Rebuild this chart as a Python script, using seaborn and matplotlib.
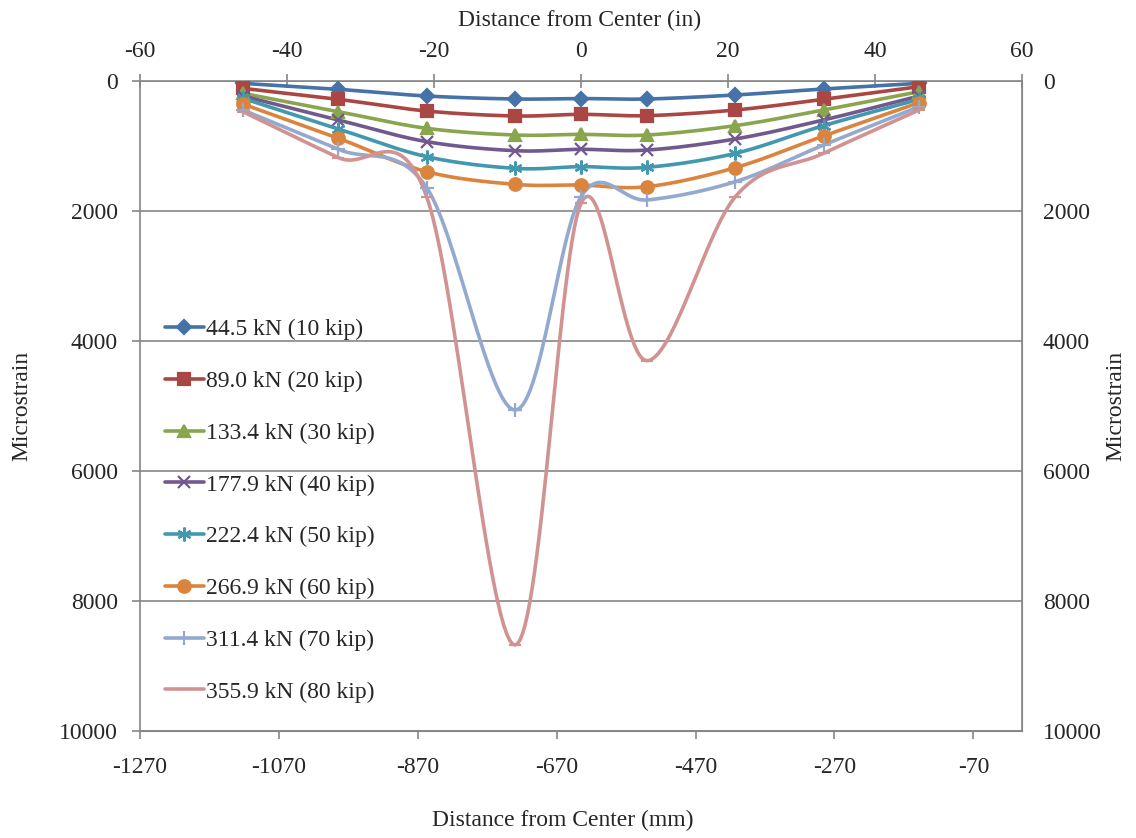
import numpy as np
import pandas as pd
import matplotlib.pyplot as plt
import seaborn as sns
from matplotlib.lines import Line2D

# gauge positions (in) and strain readings per load step
dist_in = [-46, -33, -21, -9, 0, 9, 21, 33, 46]
load_labels = ['44.5 kN (10 kip)', '89.0 kN (20 kip)', '133.4 kN (30 kip)', '177.9 kN (40 kip)',
               '222.4 kN (50 kip)', '266.9 kN (60 kip)', '311.4 kN (70 kip)', '355.9 kN (80 kip)']
s10 = [36, 128, 231, 277, 270, 277, 215, 123, 36]
s20 = [113, 282, 462, 538, 513, 533, 446, 282, 87]
s30 = [190, 472, 728, 831, 821, 831, 687, 446, 164]
s40 = [231, 600, 933, 1072, 1051, 1062, 892, 600, 231]
s50 = [267, 738, 1164, 1344, 1318, 1328, 1113, 687, 282]
s60 = [354, 882, 1395, 1590, 1600, 1626, 1333, 846, 333]
s70 = [446, 1051, 1640, 5062, 1780, 1830, 1549, 985, 395]
s80 = [472, 1179, 1780, 8677, 1882, 4303, 1780, 1113, 446]
series = [s10, s20, s30, s40, s50, s60, s70, s80]

colors = ['#4572A7', '#AA4643', '#89A54E', '#71588F', '#4198AF', '#DB843D', '#93A9CF', '#D19392']
markers = ['D', 's', '^', 'x', (6, 2, 0), 'o', '+', '_']
msizes = [7, 9, 9, 9, 10, 9, 10, 8]


def smooth(x, y, sx=7.35, sy=0.065, n=30):
    # excel-like smoothed line: cubic bezier through the points, done in screen-ish units
    p = np.column_stack([np.asarray(x, float) * sx, np.asarray(y, float) * sy])
    ext = np.vstack([p[0], p, p[-1]])
    out = []
    t = np.linspace(0, 1, n)[:, None]
    for i in range(len(p) - 1):
        p0, p3 = ext[i + 1], ext[i + 2]
        c1 = p0 + (ext[i + 2] - ext[i]) / 6
        c2 = p3 - (ext[i + 3] - ext[i + 1]) / 6
        seg = (1 - t) ** 3 * p0 + 3 * (1 - t) ** 2 * t * c1 + 3 * (1 - t) * t ** 2 * c2 + t ** 3 * p3
        out.append(seg if i == 0 else seg[1:])
    out = np.vstack(out)
    return out[:, 0] / sx, out[:, 1] / sy


sns.set_style('white')
plt.rcParams['font.family'] = ['Liberation Serif', 'DejaVu Serif']
plt.rcParams['font.size'] = 17
plt.rcParams['axes.unicode_minus'] = False

fig = plt.figure(figsize=(11.36, 8.38), dpi=100)
ax = fig.add_axes([140 / 1136, 1 - 731 / 838, 882 / 1136, 650 / 838])

handles = []
for vals, lab, c, m, ms in zip(series, load_labels, colors, markers, msizes):
    xs, ys = smooth(dist_in, vals)
    curve = pd.DataFrame({'x': xs, 'y': ys})
    sns.lineplot(data=curve, x='x', y='y', sort=False, color=c, lw=2.6, ax=ax, zorder=2)
    ax.plot(dist_in, vals, ls='none', marker=m, ms=ms, color=c, mec=c, mew=1.6, zorder=3)
    handles.append(Line2D([], [], color=c, lw=2.6, marker=m, ms=ms, mec=c, mew=1.6))

ax.set_xlim(-60, 60)
ax.set_ylim(10000, 0)
ax.set_xticks(range(-60, 61, 20))
ax.set_yticks(range(0, 10001, 2000))
ax.xaxis.tick_top()
ax.set_xlabel('')
ax.set_ylabel('')

gray = '#868686'
for sp in ax.spines.values():
    sp.set_color(gray)
    sp.set_linewidth(1.2)
ax.yaxis.grid(True, color=gray, lw=1.2)
ax.xaxis.grid(False)
ax.tick_params(axis='x', which='major', top=True, bottom=False, direction='inout', length=10,
               color=gray, width=1.2, pad=9, labelsize=17)
ax.tick_params(axis='y', which='major', left=True, direction='out', length=6,
               color=gray, width=1.2, pad=10, labelsize=17)

mm = ax.secondary_xaxis('bottom', functions=(lambda v: -635 + v * 635 / 60,
                                              lambda v: (v + 635) * 60 / 635))
mm.set_xticks(range(-1270, 0, 200))
mm.tick_params(direction='out', length=6, color=gray, width=1.2, pad=13, labelsize=17)
mm.spines['bottom'].set_color(gray)

right = ax.secondary_yaxis('right', functions=(lambda v: v, lambda v: v))
right.set_yticks(range(0, 10001, 2000))
right.tick_params(length=0, pad=15, labelsize=17)
right.spines['right'].set_color(gray)

fig.text(580 / 1136, 1 - 20 / 838, 'Distance from Center (in)', ha='center', va='center', fontsize=17)
fig.text(563 / 1136, 1 - 820 / 838, 'Distance from Center (mm)', ha='center', va='center', fontsize=17)
fig.text(22 / 1136, 1 - 406 / 838, 'Microstrain', ha='center', va='center', rotation=90, fontsize=17)
fig.text(1116 / 1136, 1 - 406 / 838, 'Microstrain', ha='center', va='center', rotation=90, fontsize=17)

ax.legend(handles, load_labels, loc='upper left', bbox_to_anchor=(0.028, 0.634), frameon=False,
          borderpad=0, borderaxespad=0, handlelength=1.65, handletextpad=0.1, labelspacing=1.28,
          fontsize=17)

fig.savefig('out.png', dpi=100)
